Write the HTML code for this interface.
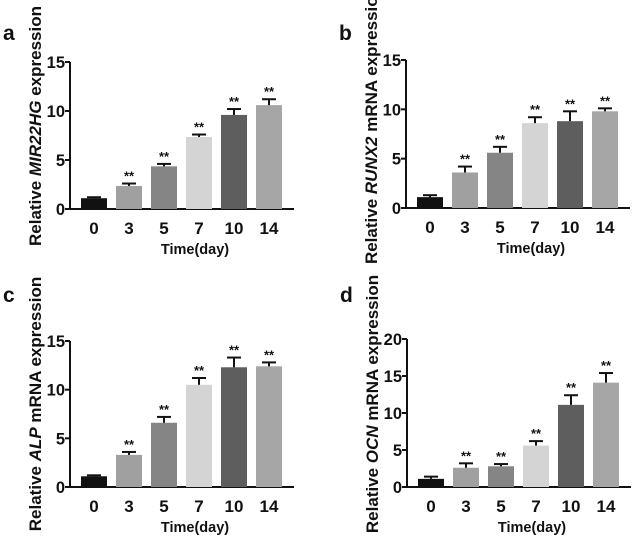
<!DOCTYPE html>
<html><head><meta charset="utf-8"><style>
html,body{margin:0;padding:0;background:#fff;}
svg{display:block;font-family:"Liberation Sans",Arial,sans-serif;}
</style></head><body>
<svg id="fig" width="632" height="538" viewBox="0 0 632 538"></svg>
<script>
const categories = ["0","3","5","7","10","14"];
const valuesA = [1.1, 2.35, 4.35, 7.35, 9.6, 10.6];
const errorsA = [0.1, 0.25, 0.25, 0.25, 0.6, 0.6];
const valuesB = [1.1, 3.6, 5.6, 8.6, 8.8, 9.8];
const errorsB = [0.2, 0.6, 0.6, 0.6, 1.0, 0.3];
const valuesC = [1.1, 3.3, 6.6, 10.5, 12.3, 12.4];
const errorsC = [0.1, 0.3, 0.6, 0.7, 1.0, 0.4];
const valuesD = [1.1, 2.6, 2.8, 5.6, 11.1, 14.1];
const errorsD = [0.3, 0.6, 0.3, 0.6, 1.3, 1.3];
const ticksABC = [0, 5, 10, 15];
const ticksD = [0, 5, 10, 15, 20];
const sigLabels = ["", "**", "**", "**", "**", "**"];
const barColors = ["#111111","#a0a0a0","#858585","#d4d4d4","#5e5e5e","#a6a6a6"];

const NS = "http://www.w3.org/2000/svg";
const svg = document.getElementById("fig");
function mk(tag, attrs, parent, text){
  const e = document.createElementNS(NS, tag);
  for (const k in attrs) e.setAttribute(k, attrs[k]);
  if (text !== undefined) e.textContent = text;
  (parent || svg).appendChild(e);
  return e;
}
function panel(letter, ox, y0, yTop, ymax, ticks, values, errors, titleParts, tag){
  const g = mk("g", {});
  
  
  const ys = v => y0 - (v / ymax) * (y0 - yTop);
  const xs = i => ox + 24 + i * 35;
  const lt = mk("text", {x: ox - 67, y: tag === 'top' ? 40 : 302, "font-size": 21, "font-weight": "bold", fill: "#111"}, g, letter);
  
  
  const ya = mk("line", {x1: ox, y1: yTop, x2: ox, y2: y0, stroke: "#111", "stroke-width": 2}, g);
  
  
  const xa = mk("line", {x1: ox - 1, y1: y0, x2: ox + 224, y2: y0, stroke: "#111", "stroke-width": 2}, g);
  
  
  ticks.forEach(t => {
    const tk = mk("line", {x1: ox - 5, y1: ys(t), x2: ox, y2: ys(t), stroke: "#111", "stroke-width": 2}, g);
    
    
    const tl = mk("text", {x: ox - 5, y: ys(t) + 6, "font-size": 16.5, "font-weight": "bold", "text-anchor": "end", fill: "#111"}, g, String(t));
    
    
  });
  categories.forEach((c, i) => {
    const cx = xs(i);
    const top = ys(values[i]);
    const b = mk("rect", {x: cx - 13, y: top, width: 26, height: y0 - top, fill: barColors[i]}, g);
    
    
    const et = ys(values[i] + errors[i]);
    const e1 = mk("line", {x1: cx, y1: top, x2: cx, y2: et, stroke: "#111", "stroke-width": 2}, g);
    
    
    const e2 = mk("line", {x1: cx - 7, y1: et, x2: cx + 7, y2: et, stroke: "#111", "stroke-width": 2}, g);
    
    
    if (sigLabels[i]) {
      const s = mk("text", {x: cx, y: et - 3, "font-size": 13, "font-weight": "bold", "text-anchor": "middle", fill: "#111"}, g, sigLabels[i]);
      
      
    }
    const xl = mk("text", {x: cx, y: y0 + 25, "font-size": 17, "font-weight": "bold", "text-anchor": "middle", fill: "#111"}, g, c);
    
    
  });
  const xt = mk("text", {x: ox + 125, y: y0 + 45, "font-size": 14.5, "font-weight": "bold", "text-anchor": "middle", fill: "#111"}, g, "Time(day)");
  
  
  const tx = ox - 29, ty = y0 - 83;
  const yt = mk("text", {x: tx, y: ty, "font-size": 17, "font-weight": "bold", "text-anchor": "middle", fill: "#111", transform: "rotate(-90 " + tx + " " + ty + ")"}, g);
  
  
  titleParts.forEach(p => {
    mk("tspan", p[1] ? {"font-style": "italic"} : {}, yt, p[0]);
  });
}
panel("a", 70, 209, 62, 15, ticksABC, valuesA, errorsA, [["Relative ",0],["MIR22HG",1],["  expression",0]], 'top');
panel("b", 406, 208, 60, 15, ticksABC, valuesB, errorsB, [["Relative ",0],["RUNX2",1],[" mRNA expression",0]], 'top');
panel("c", 70, 487, 341, 15, ticksABC, valuesC, errorsC, [["Relative ",0],["ALP",1],[" mRNA expression",0]], 'bot');
panel("d", 407, 487, 339, 20, ticksD, valuesD, errorsD, [["Relative ",0],["OCN",1],[" mRNA expression",0]], 'bot');
</script>
</body></html>
